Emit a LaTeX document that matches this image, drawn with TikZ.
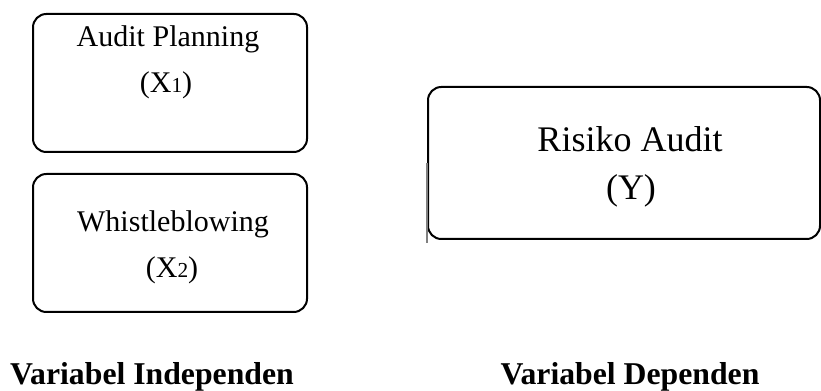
\documentclass[tikz,border=0pt]{standalone}
\usepackage{fontspec}
\setmainfont{Liberation Serif}
\usetikzlibrary{calc}
\tikzset{
  varbox/.style = {
    draw,
    line width=1.5pt,
    rounded corners=10pt,
    inner sep=0pt
  },
  boxtext/.style = {
    anchor=base,
    inner sep=0pt,
    font=\fontsize{22.5}{27}\selectfont
  },
  bigtext/.style = {
    anchor=base,
    inner sep=0pt,
    font=\fontsize{27}{32}\selectfont
  },
  colhead/.style = {
    anchor=base,
    inner sep=0pt,
    font=\fontsize{23.8}{28}\selectfont\bfseries
  }
}
\newcommand{\subdig}[1]{{\fontsize{16}{16}\selectfont #1}}

\begin{document}
\begin{tikzpicture}[x=0.75pt,y=-0.75pt]
    \useasboundingbox (0,0) rectangle (821,391);

    \node[varbox, minimum width=274*0.75pt, minimum height=138*0.75pt] (planbox)    at (170,83)  {};
    \node[varbox, minimum width=274*0.75pt, minimum height=138*0.75pt] (whistlebox) at (170,243) {};
    \node[varbox, minimum width=392*0.75pt, minimum height=152*0.75pt] (riskbox)    at (624,163) {};

    \node[boxtext] (planlbl)     at (168,47)  {Audit Planning};
    \node[boxtext] (plansym)     at (166,93)  {(X\subdig{1})};
    \node[boxtext] (whistlelbl)  at (173,232) {Whistleblowing};
    \node[boxtext] (whistlesym)  at (172,278) {(X\subdig{2})};
    \node[bigtext] (risklbl)     at (630,152) {Risiko Audit};
    \node[bigtext] (risksym)     at (631,200) {(Y)};

    \node[colhead] (indephead)   at (152,385) {Variabel Independen};
    \node[colhead] (dephead)     at (630,385) {Variabel Dependen};

    \draw[gray, line width=1.2pt] (riskbox.west) -- ++(0,80);
\end{tikzpicture}
\end{document}
